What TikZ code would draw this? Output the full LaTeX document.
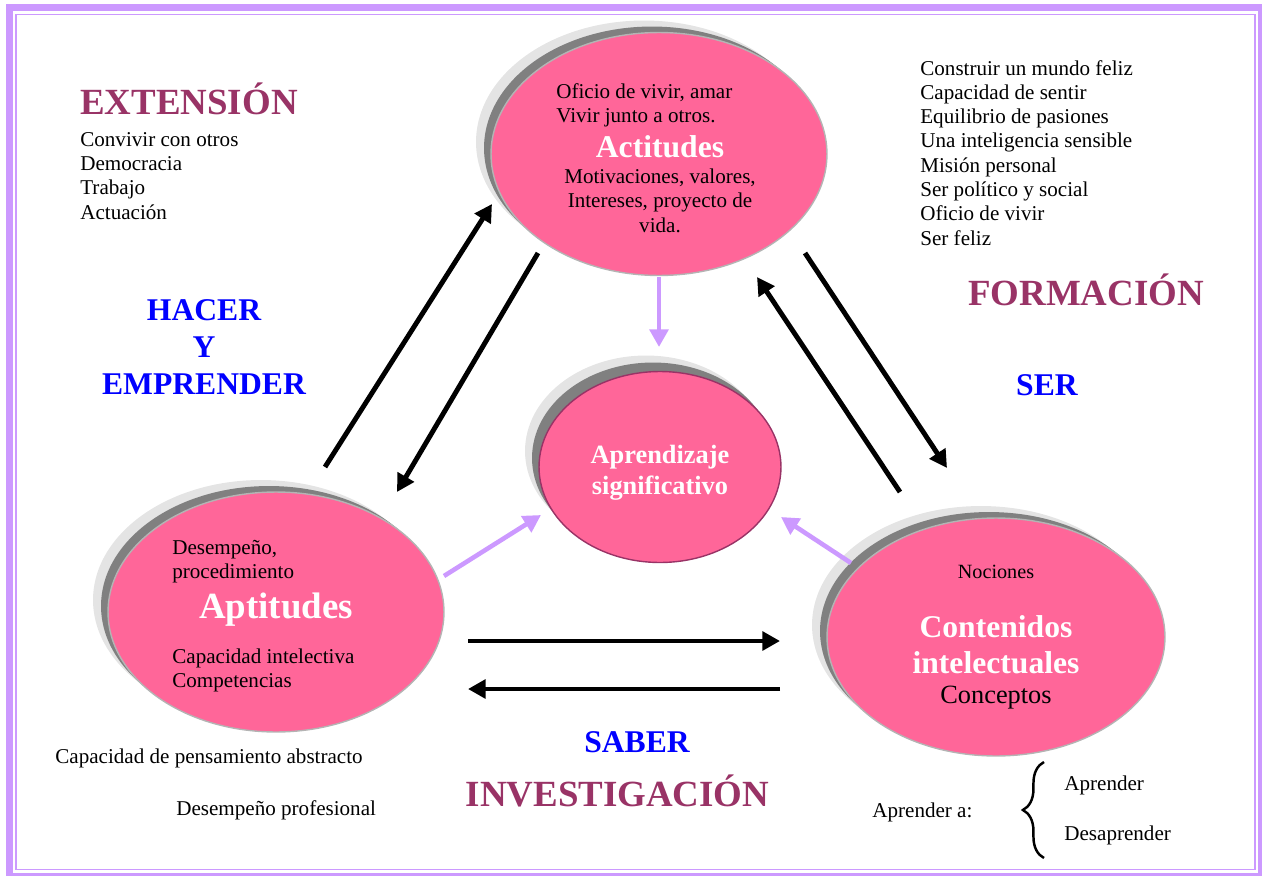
\documentclass[tikz,border=0pt]{standalone}
\usepackage{fontspec}
\setmainfont{Liberation Serif}
\usetikzlibrary{arrows.meta,shapes.geometric,shadows,decorations.pathreplacing}

\definecolor{rosa}{HTML}{FF6699}
\definecolor{lila}{HTML}{CC99FF}
\definecolor{vino}{HTML}{993366}
\definecolor{azul}{HTML}{0000FF}
\definecolor{sombraclara}{HTML}{E4E4E4}
\definecolor{sombraoscura}{HTML}{808080}
\definecolor{bordegris}{HTML}{B4B4B4}

\begin{document}
\begin{tikzpicture}[
  x=0.02cm, y=-0.02cm,
  txt/.style={font=\fontsize{12}{14}\selectfont, inner sep=0pt, anchor=base west},
  txtc/.style={font=\fontsize{12}{14}\selectfont, inner sep=0pt, anchor=base},
  suelto/.style={txt, yshift=-0.04cm},
  encabezado/.style={font=\fontsize{21}{24}\selectfont\bfseries, text=vino, inner sep=0pt, anchor=base},
  verbo/.style={font=\fontsize{18}{21}\selectfont\bfseries, text=azul, inner sep=0pt, anchor=base},
  titulo/.style={font=\fontsize{18}{20}\selectfont\bfseries, text=white, inner sep=0pt, anchor=base},
  burbuja/.style={ellipse, fill=rosa, draw=bordegris, line width=0.8pt, inner sep=0pt,
    general shadow={fill=sombraclara, shadow xshift=-0.3cm, shadow yshift=0.24cm},
    general shadow={fill=sombraoscura, shadow xshift=-0.14cm, shadow yshift=0.12cm}},
  flecha/.style={line width=2.8pt, -{Triangle[length=10pt,width=10.5pt]}},
  flechalila/.style={line width=2.6pt, lila, -{Triangle[length=10pt,width=10.5pt]}}
]
\useasboundingbox (0,0) rectangle (1262,876);

% page frame: thick outer band and thin inner line
\draw[lila, line width=3.9pt] (9.5,7.5) rectangle (1261,876);
\draw[lila, line width=1.1pt] (16,14.5) rectangle (1255,869.5);

% the four ellipses
\node[burbuja, minimum width=6.72cm, minimum height=4.86cm] (act) at (659,154) {};
\node[burbuja, minimum width=6.72cm, minimum height=4.80cm] (apt) at (276,612) {};
\node[burbuja, minimum width=6.76cm, minimum height=4.76cm] (con) at (996,637) {};
\node[ellipse, fill=rosa, draw=vino, line width=0.8pt, inner sep=0pt,
  minimum width=4.84cm, minimum height=3.82cm,
  general shadow={fill=sombraclara, shadow xshift=-0.28cm, shadow yshift=0.32cm},
  general shadow={fill=sombraoscura, shadow xshift=-0.14cm, shadow yshift=0.18cm}]
  (apr) at (660,467) {};

% Actitudes
\node[txt] (act1) at (556,98) {Oficio de vivir, amar};
\node[txt] (act2) at (556,122) {Vivir junto a otros.};
\node[titulo] (actT) at (660,157) {Actitudes};
\node[txtc] (act3) at (660,183) {Motivaciones, valores,};
\node[txtc] (act4) at (660,207.5) {Intereses, proyecto de};
\node[txtc] (act5) at (660,232) {vida.};

% Aptitudes
\node[txt] (apt1) at (172,554) {Desempeño,};
\node[txt] (apt2) at (172,578) {procedimiento};
\node[titulo, font=\fontsize{21}{24}\selectfont\bfseries] (aptT) at (276,618) {Aptitudes};
\node[txt] (apt3) at (172,663) {Capacidad intelectiva};
\node[txt] (apt4) at (172,687) {Competencias};

% Contenidos intelectuales
\node[txtc, font=\fontsize{11.5}{13}\selectfont] (con1) at (996,578) {Nociones};
\node[titulo] (conT1) at (996,637) {Contenidos};
\node[titulo] (conT2) at (996,673) {intelectuales};
\node[txtc, font=\fontsize{15}{17}\selectfont] (con2) at (996,703) {Conceptos};

% Aprendizaje significativo
\node[titulo, font=\fontsize{15}{17}\selectfont\bfseries] (aprT1) at (660,463) {Aprendizaje};
\node[titulo, font=\fontsize{15}{17}\selectfont\bfseries] (aprT2) at (660,494) {significativo};

% upper left block
\node[encabezado, anchor=base west] (ext) at (80,114) {EXTENSIÓN};
\node[suelto] (ext1) at (80,144) {Convivir con otros};
\node[suelto] (ext2) at (80,168.4) {Democracia};
\node[suelto] (ext3) at (80,192.8) {Trabajo};
\node[suelto] (ext4) at (80,217.2) {Actuación};

\node[verbo] (hacer) at (204,320) {HACER};
\node[verbo] (y) at (204,357) {Y};
\node[verbo] (empr) at (204,394) {EMPRENDER};

% upper right block
\node[suelto] (for1) at (920,73) {Construir un mundo feliz};
\node[suelto] (for2) at (920,97.3) {Capacidad de sentir};
\node[suelto] (for3) at (920,121.6) {Equilibrio de pasiones};
\node[suelto] (for4) at (920,145.9) {Una inteligencia sensible};
\node[suelto] (for5) at (920,170.2) {Misión personal};
\node[suelto] (for6) at (920,194.5) {Ser político y social};
\node[suelto] (for7) at (920,218.8) {Oficio de vivir};
\node[suelto] (for8) at (920,243.1) {Ser feliz};
\node[encabezado] (form) at (1086,305) {FORMACIÓN};
\node[verbo] (ser) at (1047,395.5) {SER};

% bottom block
\node[suelto] (inv1) at (55,761) {Capacidad de pensamiento abstracto};
\node[suelto] (inv2) at (176,813) {Desempeño profesional};
\node[verbo] (saber) at (637,752.5) {SABER};
\node[encabezado] (inv) at (617.5,806) {INVESTIGACIÓN};
\node[suelto] (apr0) at (872,815) {Aprender a:};
\node[suelto] (apr1) at (1064,788) {Aprender};
\node[suelto] (apr2) at (1064,838) {Desaprender};
\coordinate (llaveB) at (1044,858);
\coordinate (llaveA) at (1044,762);
\draw[line width=1.4pt, decorate, decoration={brace, amplitude=12pt, aspect=0.5}] (llaveB) -- (llaveA);

% arrow end points
\coordinate (a1s) at (325,467);  \coordinate (a1e) at (492,204);
\coordinate (a2s) at (538,253);  \coordinate (a2e) at (397,492);
\coordinate (a3s) at (900,492);  \coordinate (a3e) at (757,277);
\coordinate (a4s) at (805,253);  \coordinate (a4e) at (947,468);
\coordinate (a5s) at (468,641);  \coordinate (a5e) at (780,641);
\coordinate (a6s) at (780,689);  \coordinate (a6e) at (468,689);
\coordinate (l1s) at (659,277);  \coordinate (l1e) at (659,347);
\coordinate (l2s) at (444,576);  \coordinate (l2e) at (541,515);
\coordinate (l3s) at (851,563);  \coordinate (l3e) at (781,517);

\draw[flecha] (a1s) -- (a1e);
\draw[flecha] (a2s) -- (a2e);
\draw[flecha] (a3s) -- (a3e);
\draw[flecha] (a4s) -- (a4e);
\draw[flecha] (a5s) -- (a5e);
\draw[flecha] (a6s) -- (a6e);
\draw[flechalila] (l1s) -- (l1e);
\draw[flechalila] (l2s) -- (l2e);
\draw[flechalila] (l3s) -- (l3e);
\end{tikzpicture}
\end{document}
